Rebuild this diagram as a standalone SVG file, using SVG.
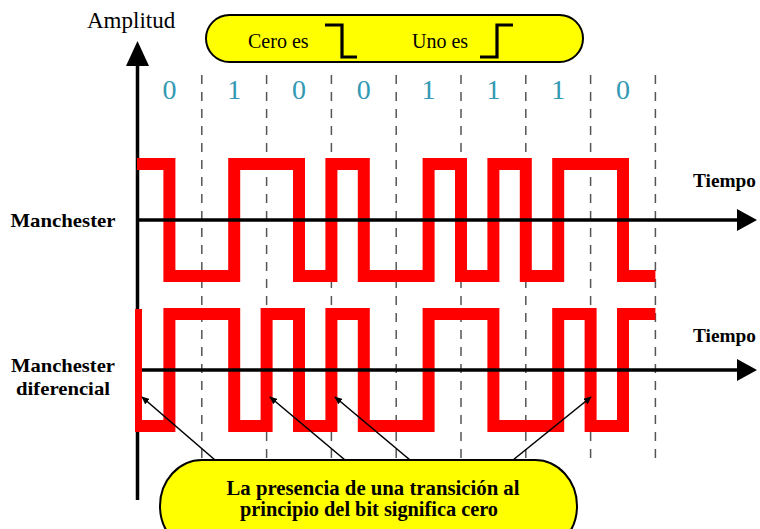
<svg xmlns="http://www.w3.org/2000/svg" width="760" height="529" viewBox="0 0 760 529">
<defs>
<style>
.serif{font-family:"Liberation Serif","Times New Roman",serif;fill:#000}
.bold{font-weight:bold}
.bit{font-family:"Liberation Serif","Times New Roman",serif;font-size:28px;fill:#3399B3;text-anchor:middle}
.axis{stroke:#000;stroke-width:3.5;fill:none}
.dash{stroke:#555;stroke-width:1.5;stroke-dasharray:9 8;fill:none}
.wave{stroke:#FF0000;stroke-width:12;fill:none;stroke-linejoin:miter;stroke-linecap:butt}
.bubble{fill:#FFFF00;stroke:#000;stroke-width:2}
.conn{stroke:#000;stroke-width:1.6;fill:none;marker-end:url(#ah)}
</style>
<marker id="ah" viewBox="0 0 10 10" refX="9" refY="5" markerWidth="8" markerHeight="7" markerUnits="userSpaceOnUse" orient="auto" preserveAspectRatio="none">
<path d="M0,0 L10,5 L0,10 Z" fill="#000"/>
</marker>
</defs>
<rect width="760" height="529" fill="#fff"/>

<g id="grid">
<path class="dash" d="M201.8,75 V458 M266.6,75 V458 M331.4,75 V458 M396.2,75 V458 M461,75 V458 M525.8,75 V458 M590.6,75 V458 M655.4,75 V458"/>
</g>

<g id="bits">
<text class="bit" x="169.4" y="99">0</text>
<text class="bit" x="234.2" y="99">1</text>
<text class="bit" x="299" y="99">0</text>
<text class="bit" x="363.8" y="99">0</text>
<text class="bit" x="428.6" y="99">1</text>
<text class="bit" x="493.4" y="99">1</text>
<text class="bit" x="558.2" y="99">1</text>
<text class="bit" x="623" y="99">0</text>
</g>

<g id="amplitude-axis">
<line class="axis" x1="137.5" y1="500" x2="137.5" y2="62"/>
<path d="M126,66 L137.5,41 L149,66 Z" fill="#000"/>
<text class="serif" x="87" y="28" font-size="23">Amplitud</text>
</g>

<g id="manchester">
<text class="serif bold" x="63" y="227" font-size="19" text-anchor="middle" textLength="105" lengthAdjust="spacingAndGlyphs">Manchester</text>
<path class="wave" d="M137,164 H169.4 V276 H234.2 V164 H299 V276 H331.4 V164 H363.8 V276 H428.6 V164 H461 V276 H493.4 V164 H525.8 V276 H558.2 V164 H623 V276 H655.4"/>
<line class="axis" x1="137" y1="220" x2="740" y2="220"/>
<path d="M737,209 L757,220 L737,231 Z" fill="#000"/>
<text class="serif bold" x="693" y="187" font-size="18" textLength="63" lengthAdjust="spacingAndGlyphs">Tiempo</text>
</g>

<g id="manchester-diferencial">
<text class="serif bold" x="63" y="372" font-size="19" text-anchor="middle" textLength="104" lengthAdjust="spacingAndGlyphs">Manchester</text>
<text class="serif bold" x="63" y="395" font-size="19" text-anchor="middle" textLength="94" lengthAdjust="spacingAndGlyphs">diferencial</text>
<path class="wave" d="M135,426 H169.4 V314 H234.2 V426 H266.6 V314 H299 V426 H331.4 V314 H363.8 V426 H428.6 V314 H493.4 V426 H558.2 V314 H590.6 V426 H623 V314 H655.4"/>
<line x1="138.5" y1="309" x2="138.5" y2="432" stroke="#FF0000" stroke-width="7"/>
<line class="axis" x1="142" y1="370" x2="740" y2="370"/>
<path d="M737,359 L757,370 L737,381 Z" fill="#000"/>
<text class="serif bold" x="693" y="342" font-size="18" textLength="63" lengthAdjust="spacingAndGlyphs">Tiempo</text>
</g>

<g id="legend">
<rect class="bubble" x="206" y="15" width="377" height="47" rx="23.5"/>
<text class="serif" x="248" y="48" font-size="20">Cero es</text>
<path d="M325,25 H342 V57 H357" fill="none" stroke="#000" stroke-width="3.2"/>
<text class="serif" x="412" y="48" font-size="20">Uno es</text>
<path d="M480,57 H497 V25 H513" fill="none" stroke="#000" stroke-width="3.2"/>
</g>

<g id="connectors">
<line class="conn" x1="215" y1="460" x2="142" y2="397"/>
<line class="conn" x1="345" y1="460" x2="270" y2="397"/>
<line class="conn" x1="410" y1="460" x2="335" y2="397"/>
<line class="conn" x1="513" y1="460" x2="591" y2="397"/>
</g>

<g id="note">
<rect class="bubble" x="160" y="460" width="417" height="92" rx="42" ry="46"/>
<text class="serif bold" x="373" y="495" font-size="20" text-anchor="middle" textLength="293" lengthAdjust="spacingAndGlyphs">La presencia de una transición al</text>
<text class="serif bold" x="369" y="516" font-size="20" text-anchor="middle" textLength="258" lengthAdjust="spacingAndGlyphs">principio del bit significa cero</text>
</g>
</svg>
